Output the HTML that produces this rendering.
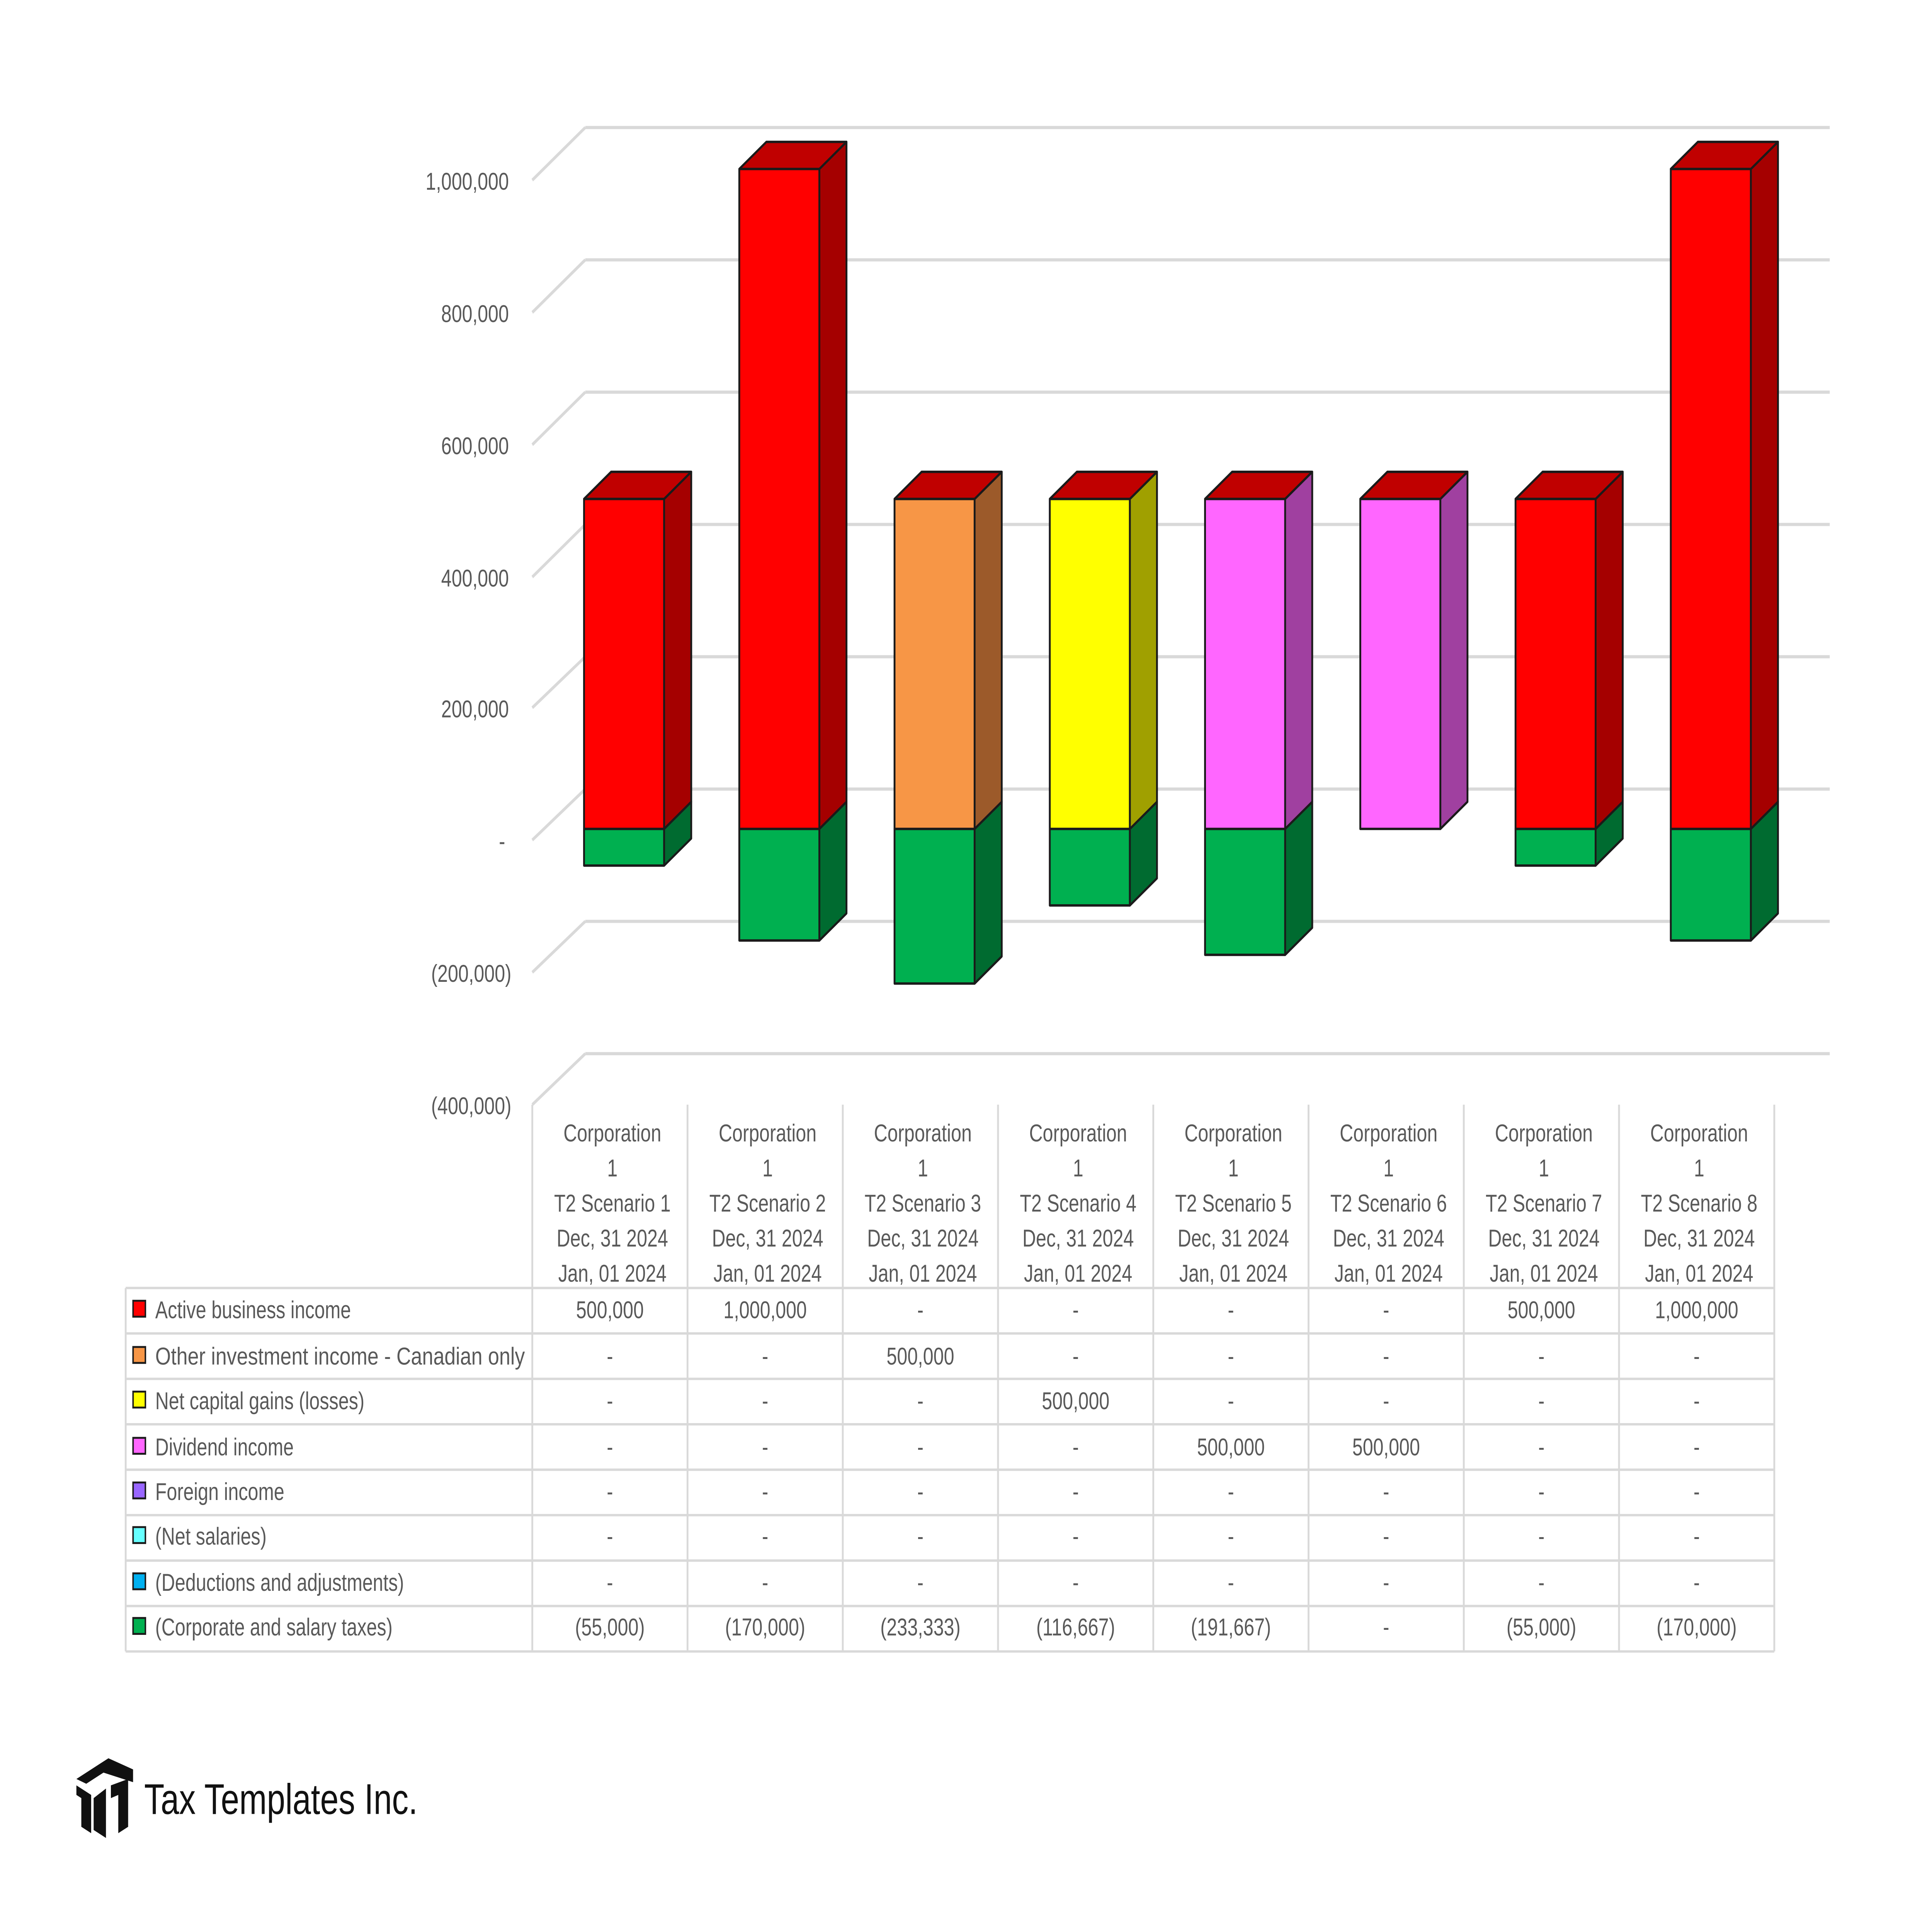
<!DOCTYPE html>
<html><head><meta charset="utf-8"><style>
html,body{margin:0;padding:0;background:#fff;overflow:hidden;width:100vw;height:100vh;}
svg{display:block;width:100vw;height:100vh;position:absolute;left:0;top:0}
text{font-family:"Liberation Sans",sans-serif;fill:#595959}
</style></head><body>
<svg viewBox="0 0 1568 1212" preserveAspectRatio="none" xmlns="http://www.w3.org/2000/svg">
<rect width="1568" height="1212" fill="#fff"/>
<g stroke="#d9d9d9" stroke-width="2" fill="none">
<path d="M475 80H1485M475 163H1485M475 246H1485M475 329H1485M475 412H1485M475 495H1485M475 578H1485M475 661H1485"/>
<path d="M432 113L475 80M432 196L475 163M432 279L475 246M432 362L475 329M432 444L475 412M432 527L475 495M432 610L475 578M432 693L475 661"/>
</g>
<g font-size="15.2" text-anchor="end">
<text x="413" y="119">1,000,000</text>
<text x="413" y="202">800,000</text>
<text x="413" y="285">600,000</text>
<text x="413" y="368">400,000</text>
<text x="413" y="450">200,000</text>
<text x="410" y="533">-</text>
<text x="415" y="616">(200,000)</text>
<text x="415" y="699">(400,000)</text>
</g>
<g stroke="#1a1a1a" stroke-width="1.5" stroke-linejoin="round">
<rect x="474" y="520" width="65" height="23" fill="#00B050"/>
<polygon points="539,520 561,503 561,526 539,543" fill="#006B30"/>
<rect x="474" y="313" width="65" height="207" fill="#FF0000"/>
<polygon points="539,313 561,296 561,503 539,520" fill="#A50000"/>
<polygon points="474,313 496,296 561,296 539,313" fill="#C00000"/>
<rect x="600" y="520" width="65" height="70" fill="#00B050"/>
<polygon points="665,520 687,503 687,573 665,590" fill="#006B30"/>
<rect x="600" y="106" width="65" height="414" fill="#FF0000"/>
<polygon points="665,106 687,89 687,503 665,520" fill="#A50000"/>
<polygon points="600,106 622,89 687,89 665,106" fill="#C00000"/>
<rect x="726" y="520" width="65" height="97" fill="#00B050"/>
<polygon points="791,520 813,503 813,600 791,617" fill="#006B30"/>
<rect x="726" y="313" width="65" height="207" fill="#F79646"/>
<polygon points="791,313 813,296 813,503 791,520" fill="#9C5A2A"/>
<polygon points="726,313 748,296 813,296 791,313" fill="#C00000"/>
<rect x="852" y="520" width="65" height="48" fill="#00B050"/>
<polygon points="917,520 939,503 939,551 917,568" fill="#006B30"/>
<rect x="852" y="313" width="65" height="207" fill="#FFFF00"/>
<polygon points="917,313 939,296 939,503 917,520" fill="#A0A000"/>
<polygon points="852,313 874,296 939,296 917,313" fill="#C00000"/>
<rect x="978" y="520" width="65" height="79" fill="#00B050"/>
<polygon points="1043,520 1065,503 1065,582 1043,599" fill="#006B30"/>
<rect x="978" y="313" width="65" height="207" fill="#FF66FF"/>
<polygon points="1043,313 1065,296 1065,503 1043,520" fill="#A040A0"/>
<polygon points="978,313 1000,296 1065,296 1043,313" fill="#C00000"/>
<rect x="1104" y="313" width="65" height="207" fill="#FF66FF"/>
<polygon points="1169,313 1191,296 1191,503 1169,520" fill="#A040A0"/>
<polygon points="1104,313 1126,296 1191,296 1169,313" fill="#C00000"/>
<rect x="1230" y="520" width="65" height="23" fill="#00B050"/>
<polygon points="1295,520 1317,503 1317,526 1295,543" fill="#006B30"/>
<rect x="1230" y="313" width="65" height="207" fill="#FF0000"/>
<polygon points="1295,313 1317,296 1317,503 1295,520" fill="#A50000"/>
<polygon points="1230,313 1252,296 1317,296 1295,313" fill="#C00000"/>
<rect x="1356" y="520" width="65" height="70" fill="#00B050"/>
<polygon points="1421,520 1443,503 1443,573 1421,590" fill="#006B30"/>
<rect x="1356" y="106" width="65" height="414" fill="#FF0000"/>
<polygon points="1421,106 1443,89 1443,503 1421,520" fill="#A50000"/>
<polygon points="1356,106 1378,89 1443,89 1421,106" fill="#C00000"/>
</g>
<g stroke="#d9d9d9" stroke-width="1.5" fill="none">
<path d="M432 693V1036M558 693V1036M684 693V1036M810 693V1036M936 693V1036M1062 693V1036M1188 693V1036M1314 693V1036M1440 693V1036M102 808V1036"/>
<path d="M102 808H1440M102 836.5H1440M102 865H1440M102 893.5H1440M102 922H1440M102 950.5H1440M102 979H1440M102 1007.5H1440M102 1036H1440"/>
</g>
<g font-size="15.2" text-anchor="middle">
<text x="497" y="716">Corporation</text><text x="497" y="738">1</text><text x="497" y="760">T2 Scenario 1</text><text x="497" y="782">Dec, 31 2024</text><text x="497" y="804">Jan, 01 2024</text>
<text x="623" y="716">Corporation</text><text x="623" y="738">1</text><text x="623" y="760">T2 Scenario 2</text><text x="623" y="782">Dec, 31 2024</text><text x="623" y="804">Jan, 01 2024</text>
<text x="749" y="716">Corporation</text><text x="749" y="738">1</text><text x="749" y="760">T2 Scenario 3</text><text x="749" y="782">Dec, 31 2024</text><text x="749" y="804">Jan, 01 2024</text>
<text x="875" y="716">Corporation</text><text x="875" y="738">1</text><text x="875" y="760">T2 Scenario 4</text><text x="875" y="782">Dec, 31 2024</text><text x="875" y="804">Jan, 01 2024</text>
<text x="1001" y="716">Corporation</text><text x="1001" y="738">1</text><text x="1001" y="760">T2 Scenario 5</text><text x="1001" y="782">Dec, 31 2024</text><text x="1001" y="804">Jan, 01 2024</text>
<text x="1127" y="716">Corporation</text><text x="1127" y="738">1</text><text x="1127" y="760">T2 Scenario 6</text><text x="1127" y="782">Dec, 31 2024</text><text x="1127" y="804">Jan, 01 2024</text>
<text x="1253" y="716">Corporation</text><text x="1253" y="738">1</text><text x="1253" y="760">T2 Scenario 7</text><text x="1253" y="782">Dec, 31 2024</text><text x="1253" y="804">Jan, 01 2024</text>
<text x="1379" y="716">Corporation</text><text x="1379" y="738">1</text><text x="1379" y="760">T2 Scenario 8</text><text x="1379" y="782">Dec, 31 2024</text><text x="1379" y="804">Jan, 01 2024</text>
<text x="495" y="827">500,000</text><text x="621" y="827">1,000,000</text><text x="747" y="827">-</text><text x="873" y="827">-</text><text x="999" y="827">-</text><text x="1125" y="827">-</text><text x="1251" y="827">500,000</text><text x="1377" y="827">1,000,000</text>
<text x="495" y="856">-</text><text x="621" y="856">-</text><text x="747" y="856">500,000</text><text x="873" y="856">-</text><text x="999" y="856">-</text><text x="1125" y="856">-</text><text x="1251" y="856">-</text><text x="1377" y="856">-</text>
<text x="495" y="884">-</text><text x="621" y="884">-</text><text x="747" y="884">-</text><text x="873" y="884">500,000</text><text x="999" y="884">-</text><text x="1125" y="884">-</text><text x="1251" y="884">-</text><text x="1377" y="884">-</text>
<text x="495" y="913">-</text><text x="621" y="913">-</text><text x="747" y="913">-</text><text x="873" y="913">-</text><text x="999" y="913">500,000</text><text x="1125" y="913">500,000</text><text x="1251" y="913">-</text><text x="1377" y="913">-</text>
<text x="495" y="941">-</text><text x="621" y="941">-</text><text x="747" y="941">-</text><text x="873" y="941">-</text><text x="999" y="941">-</text><text x="1125" y="941">-</text><text x="1251" y="941">-</text><text x="1377" y="941">-</text>
<text x="495" y="969">-</text><text x="621" y="969">-</text><text x="747" y="969">-</text><text x="873" y="969">-</text><text x="999" y="969">-</text><text x="1125" y="969">-</text><text x="1251" y="969">-</text><text x="1377" y="969">-</text>
<text x="495" y="998">-</text><text x="621" y="998">-</text><text x="747" y="998">-</text><text x="873" y="998">-</text><text x="999" y="998">-</text><text x="1125" y="998">-</text><text x="1251" y="998">-</text><text x="1377" y="998">-</text>
<text x="495" y="1026">(55,000)</text><text x="621" y="1026">(170,000)</text><text x="747" y="1026">(233,333)</text><text x="873" y="1026">(116,667)</text><text x="999" y="1026">(191,667)</text><text x="1125" y="1026">-</text><text x="1251" y="1026">(55,000)</text><text x="1377" y="1026">(170,000)</text>
</g>
<g stroke="#1a1a1a" stroke-width="1.2">
<rect x="108" y="816" width="10" height="10" fill="#FF0000"/>
<rect x="108" y="845" width="10" height="10" fill="#F79646"/>
<rect x="108" y="873" width="10" height="10" fill="#FFFF00"/>
<rect x="108" y="902" width="10" height="10" fill="#FF66FF"/>
<rect x="108" y="930" width="10" height="10" fill="#9966FF"/>
<rect x="108" y="958" width="10" height="10" fill="#66FFFF"/>
<rect x="108" y="987" width="10" height="10" fill="#00B0F0"/>
<rect x="108" y="1015" width="10" height="10" fill="#00B050"/>
</g>
<g font-size="15.2">
<text x="126" y="827">Active business income</text>
<text x="126" y="856" textLength="300" lengthAdjust="spacingAndGlyphs">Other investment income - Canadian only</text>
<text x="126" y="884">Net capital gains (losses)</text>
<text x="126" y="913">Dividend income</text>
<text x="126" y="941">Foreign income</text>
<text x="126" y="969">(Net salaries)</text>
<text x="126" y="998">(Deductions and adjustments)</text>
<text x="126" y="1026">(Corporate and salary taxes)</text>
</g>
<g fill="#111">
<polygon points="62,1116 88,1103 108,1110 108,1118 84,1112 70,1119"/>
<polygon points="62,1120 74,1126 74,1150 66,1146 66,1128 62,1126"/>
<polygon points="76,1128 86,1122 86,1153 76,1148"/>
<polygon points="90,1120 104,1116 104,1146 96,1150 96,1126 90,1128"/>
</g>
<text x="117" y="1138" font-size="27" textLength="222" lengthAdjust="spacingAndGlyphs" style="fill:#111">Tax Templates Inc.</text>
</svg>
</body></html>
